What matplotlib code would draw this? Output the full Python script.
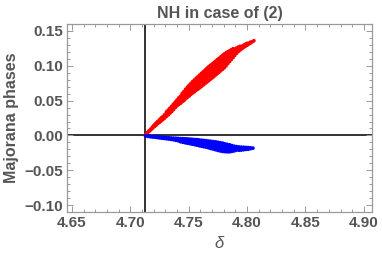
import numpy as np
import matplotlib
matplotlib.use("Agg")
import matplotlib.pyplot as plt
from matplotlib.ticker import MultipleLocator

# Red series (Majorana phase 1): x positions and the y values seen at each x
red_x = [4.713, 4.7145, 4.716, 4.7175, 4.719, 4.7205, 4.722, 4.7235, 4.725, 4.7265,
         4.728, 4.7295, 4.731, 4.7325, 4.734, 4.7355, 4.737, 4.7385, 4.740, 4.7415,
         4.743, 4.7445, 4.746, 4.7475, 4.749, 4.7505, 4.752, 4.7535, 4.755, 4.7565,
         4.758, 4.7595, 4.761, 4.7625, 4.764, 4.7655, 4.767, 4.7685, 4.770, 4.7715,
         4.773, 4.7745, 4.776, 4.7775, 4.779, 4.7805, 4.782, 4.7835, 4.785, 4.7865,
         4.788, 4.7895, 4.791, 4.7925, 4.794, 4.7955, 4.797, 4.7985, 4.800, 4.8015,
         4.803, 4.8045, 4.8058]
red_y = [[0.001], [0.003, 0.004], [0.0055, 0.0068], [0.0078, 0.0092], [0.0102, 0.0121],
         [0.0125, 0.0140, 0.0150], [0.0145, 0.0165, 0.0178], [0.0170, 0.0190, 0.0200],
         [0.0188, 0.0210, 0.0226], [0.0208, 0.0235, 0.0252], [0.0230, 0.0252, 0.0272],
         [0.0250, 0.0280, 0.0298], [0.0275, 0.0298, 0.0320, 0.0338],
         [0.0295, 0.0325, 0.0348, 0.0365], [0.0320, 0.0355, 0.0378, 0.0392],
         [0.0345, 0.0372, 0.0400, 0.0420], [0.0372, 0.0410, 0.0432, 0.0450],
         [0.0400, 0.0430, 0.0460, 0.0480], [0.0425, 0.0462, 0.0488, 0.0510],
         [0.0445, 0.0482, 0.0510, 0.0540], [0.0462, 0.0500, 0.0532, 0.0562],
         [0.0485, 0.0525, 0.0558, 0.0585, 0.0605], [0.0502, 0.0545, 0.0582, 0.0610, 0.0632],
         [0.0528, 0.0568, 0.0600, 0.0635, 0.0665], [0.0548, 0.0590, 0.0625, 0.0660, 0.0695],
         [0.0568, 0.0612, 0.0650, 0.0685, 0.0722], [0.0592, 0.0635, 0.0675, 0.0710, 0.0748],
         [0.0610, 0.0655, 0.0695, 0.0735, 0.0775], [0.0628, 0.0675, 0.0718, 0.0758, 0.0798],
         [0.0650, 0.0695, 0.0742, 0.0782, 0.0822], [0.0665, 0.0715, 0.0762, 0.0802, 0.0845],
         [0.0685, 0.0735, 0.0785, 0.0825, 0.0868], [0.0705, 0.0758, 0.0805, 0.0848, 0.0892],
         [0.0725, 0.0775, 0.0828, 0.0870, 0.0915], [0.0745, 0.0795, 0.0850, 0.0892, 0.0938],
         [0.0765, 0.0815, 0.0870, 0.0915, 0.0962], [0.0785, 0.0840, 0.0890, 0.0938, 0.0985],
         [0.0805, 0.0860, 0.0912, 0.0958, 0.1005], [0.0825, 0.0875, 0.0932, 0.0978, 0.1025],
         [0.0845, 0.0900, 0.0950, 0.1002, 0.1045], [0.0868, 0.0920, 0.0972, 0.1022, 0.1065],
         [0.0888, 0.0940, 0.0995, 0.1042, 0.1088], [0.0908, 0.0960, 0.1015, 0.1062, 0.1108],
         [0.0930, 0.0985, 0.1035, 0.1082, 0.1128], [0.0950, 0.1005, 0.1055, 0.1102, 0.1150],
         [0.0972, 0.1025, 0.1075, 0.1122, 0.1170], [0.1000, 0.1050, 0.1095, 0.1142, 0.1185],
         [0.1032, 0.1075, 0.1120, 0.1162, 0.1202], [0.1062, 0.1100, 0.1140, 0.1180, 0.1215],
         [0.1090, 0.1125, 0.1160, 0.1198, 0.1230], [0.1120, 0.1150, 0.1185, 0.1218, 0.1245],
         [0.1150, 0.1180, 0.1205, 0.1238], [0.1180, 0.1205, 0.1228, 0.1255],
         [0.1205, 0.1228, 0.1248, 0.1268], [0.1225, 0.1245, 0.1262, 0.1280],
         [0.1245, 0.1262, 0.1278], [0.1262, 0.1280, 0.1295], [0.1280, 0.1295, 0.1310],
         [0.1295, 0.1310, 0.1322], [0.1312, 0.1325], [0.1328, 0.1340], [0.1345], [0.1360]]

# Blue series (Majorana phase 2)
blue_x = [4.713, 4.715, 4.717, 4.719, 4.721, 4.723, 4.725, 4.727, 4.729, 4.731,
          4.733, 4.735, 4.737, 4.739, 4.741, 4.743, 4.745, 4.747, 4.749, 4.751,
          4.753, 4.755, 4.757, 4.759, 4.761, 4.763, 4.765, 4.767, 4.769, 4.771,
          4.773, 4.775, 4.777, 4.779, 4.781, 4.783, 4.785, 4.787, 4.789, 4.791,
          4.793, 4.795, 4.797, 4.799, 4.801, 4.803, 4.805]
blue_y = [[-0.0005], [-0.0008, -0.0014], [-0.0012, -0.0018], [-0.0015, -0.0022],
          [-0.0016, -0.0025], [-0.0018, -0.0030], [-0.0020, -0.0035], [-0.0025, -0.0040],
          [-0.0028, -0.0043], [-0.0030, -0.0048], [-0.0033, -0.0052], [-0.0036, -0.0056],
          [-0.0038, -0.0050, -0.0062], [-0.0040, -0.0055, -0.0070], [-0.0042, -0.0058, -0.0076],
          [-0.0045, -0.0062, -0.0080, -0.0090], [-0.0046, -0.0065, -0.0085, -0.0098],
          [-0.0048, -0.0070, -0.0090, -0.0105], [-0.0050, -0.0072, -0.0095, -0.0112],
          [-0.0052, -0.0076, -0.0098, -0.0118], [-0.0055, -0.0082, -0.0105, -0.0125],
          [-0.0058, -0.0088, -0.0110, -0.0132], [-0.0060, -0.0090, -0.0115, -0.0140],
          [-0.0064, -0.0095, -0.0122, -0.0148], [-0.0068, -0.0100, -0.0128, -0.0155],
          [-0.0072, -0.0105, -0.0132, -0.0162], [-0.0076, -0.0108, -0.0138, -0.0168],
          [-0.0080, -0.0115, -0.0145, -0.0178], [-0.0084, -0.0120, -0.0152, -0.0188],
          [-0.0088, -0.0125, -0.0160, -0.0195], [-0.0092, -0.0132, -0.0168, -0.0205],
          [-0.0098, -0.0138, -0.0175, -0.0215], [-0.0105, -0.0145, -0.0182, -0.0222],
          [-0.0110, -0.0150, -0.0190, -0.0230], [-0.0120, -0.0158, -0.0195, -0.0232],
          [-0.0128, -0.0165, -0.0198, -0.0235], [-0.0135, -0.0170, -0.0200, -0.0235],
          [-0.0145, -0.0175, -0.0205, -0.0228], [-0.0155, -0.0180, -0.0208, -0.0222],
          [-0.0160, -0.0185, -0.0210], [-0.0165, -0.0190, -0.0212], [-0.0168, -0.0190, -0.0210],
          [-0.0170, -0.0188, -0.0205], [-0.0172, -0.0187, -0.0200], [-0.0175, -0.0185, -0.0198],
          [-0.0178, -0.0190], [-0.0182]]

x_ticks = [4.65, 4.70, 4.75, 4.80, 4.85, 4.90]
y_ticks = [-0.10, -0.05, 0.00, 0.05, 0.10, 0.15]
x_tick_labels = ["4.65", "4.70", "4.75", "4.80", "4.85", "4.90"]
y_tick_labels = ["\u22120.10", "\u22120.05", "0.00", "0.05", "0.10", "0.15"]
axis_origin_x = 3 * np.pi / 2


def flatten(xs, ygroups):
    px, py = [], []
    for x, ys in zip(xs, ygroups):
        for y in ys:
            px.append(x)
            py.append(y)
    return px, py


rx, ry = flatten(red_x, red_y)
bx, by = flatten(blue_x, blue_y)

plt.rcParams['font.family'] = ['Liberation Sans', 'DejaVu Sans']
gray = '#555555'
frame_gray = '#999999'

fig = plt.figure(figsize=(3.82, 2.58), dpi=100)
ax = fig.add_axes([0.175, 0.178, 0.799, 0.729])

ax.axvline(axis_origin_x, color='#222222', lw=1.3, zorder=1)
ax.axhline(0.0, color='#222222', lw=1.3, zorder=1)

ax.scatter(rx, ry, s=7, color='#ff0000', edgecolors='none', zorder=3)
ax.scatter(bx, by, s=7, color='#0000ff', edgecolors='none', zorder=3)

ax.set_xlim(4.6457, 4.907)
ax.set_ylim(-0.110, 0.160)

ax.set_xticks(x_ticks)
ax.set_xticklabels(x_tick_labels)
ax.set_yticks(y_ticks)
ax.set_yticklabels(y_tick_labels)
ax.xaxis.set_minor_locator(MultipleLocator(0.01))
ax.yaxis.set_minor_locator(MultipleLocator(0.01))

ax.tick_params(which='both', direction='in', top=True, right=True, color=frame_gray,
               width=0.7)
ax.tick_params(which='major', length=4, labelsize=11, labelcolor=gray, pad=3)
ax.tick_params(which='minor', length=2)
for lab in ax.get_xticklabels() + ax.get_yticklabels():
    lab.set_fontweight('bold')
for sp in ax.spines.values():
    sp.set_color(frame_gray)
    sp.set_linewidth(0.9)

ax.set_title("NH in case of (2)", fontsize=11.5, fontweight='bold', color=gray, pad=4)
ax.set_ylabel("Majorana phases", fontsize=11.5, fontweight='bold', color=gray, labelpad=4)
ax.set_xlabel("\u03b4", fontsize=12, fontstyle='italic', color=gray, labelpad=4)

fig.savefig("out.png", dpi=100)
